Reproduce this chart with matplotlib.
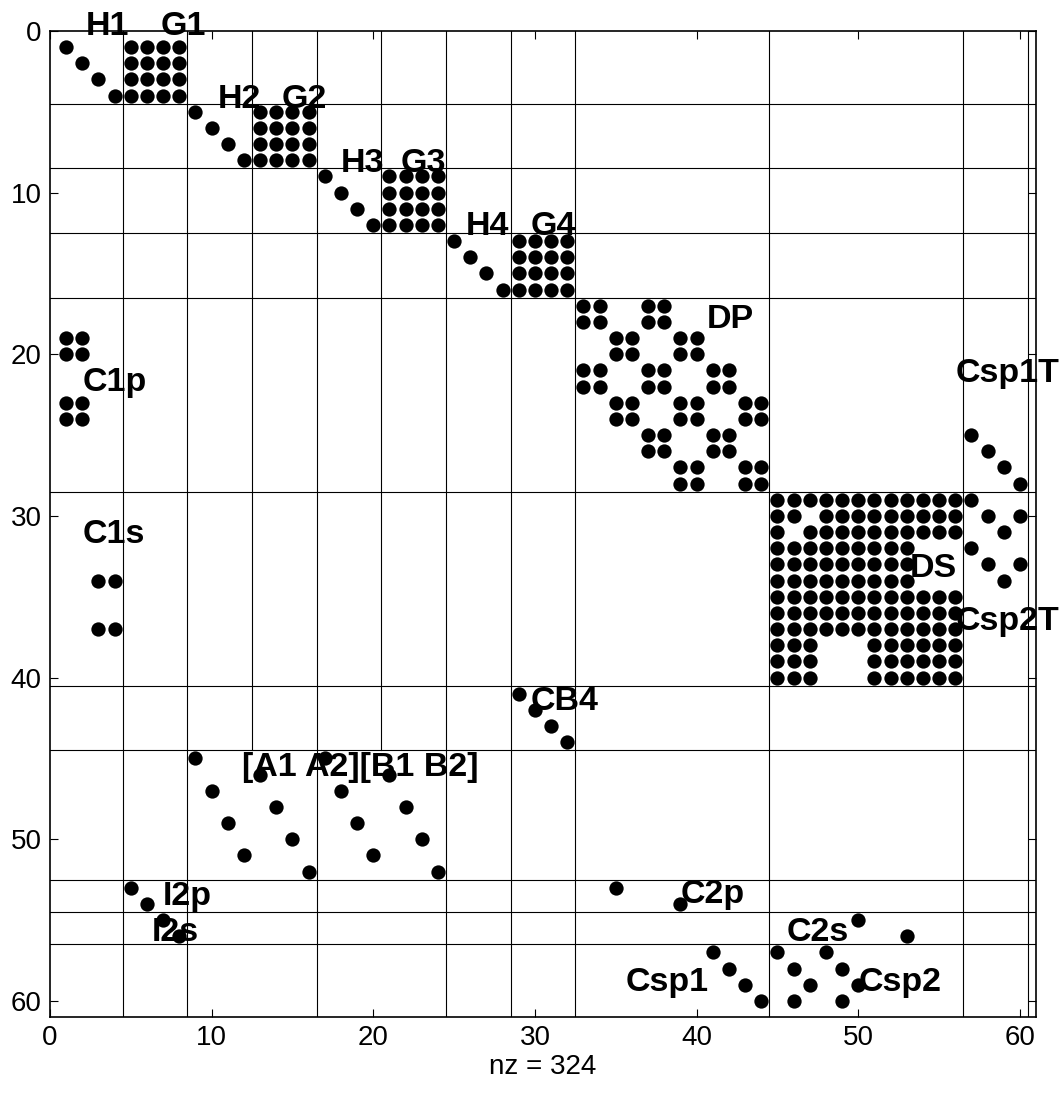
import numpy as np
import matplotlib
matplotlib.use("Agg")
import matplotlib.pyplot as plt

# sparsity pattern of the 60x60 matrix, given block by block
# each block: first row, first column (1-based) and its pattern of nonzeros
diag4 = ["1000", "0100", "0010", "0001"]
full4 = ["1111", "1111", "1111", "1111"]

dp_pattern = ["110011000000", "110011000000",
              "001100110000", "001100110000",
              "110011001100", "110011001100",
              "001100110011", "001100110011",
              "000011001100", "000011001100",
              "000000110011", "000000110011"]

ds_pattern = ["111111111111",
              "110111111111",
              "101111111111",
              "111111111000",
              "111111111000",
              "111111111000",
              "111111111111",
              "111111111111",
              "111111111111",
              "111000111111",
              "111000111111",
              "111000111111"]

c1p_pattern = ["11", "11", "00", "00", "11", "11"]
c1s_pattern = ["11", "00", "00", "11"]
csp2t_pattern = ["1000", "0101", "0010", "1000", "0101", "0010"]
csp2_pattern = ["100100", "010010", "001001", "010010"]
ab_pattern = ["1000000010000000",
              "0000100000001000",
              "0100000001000000",
              "0000010000000100",
              "0010000000100000",
              "0000001000000010",
              "0001000000010000",
              "0000000100000001"]
i2_pattern = ["10", "01"]
c2p_pattern = ["10000", "00001"]
c2s_pattern = ["1000", "0001"]

block_rows = [1, 5, 9, 13, 1, 5, 9, 13, 17, 19, 25, 29, 29, 34, 41, 45, 53, 53, 55, 55, 57, 57]
block_cols = [1, 9, 17, 25, 5, 13, 21, 29, 33, 1, 57, 45, 57, 3, 29, 9, 5, 35, 7, 50, 41, 45]
block_patterns = [diag4, diag4, diag4, diag4, full4, full4, full4, full4,
                  dp_pattern, c1p_pattern, diag4, ds_pattern, csp2t_pattern,
                  c1s_pattern, diag4, ab_pattern, i2_pattern, c2p_pattern,
                  i2_pattern, c2s_pattern, diag4, csp2_pattern]

# block partition lines
vlines_full = [4.5, 8.5, 16.5, 24.5, 28.5, 32.5, 44.5, 56.5, 60.5]
vlines_part = [12.5, 20.5]   # these stop at row 44.5
hlines_full = [4.5, 8.5, 12.5, 16.5, 28.5, 40.5, 44.5, 52.5, 54.5, 56.5]

# block labels: text, x, y (baseline)
label_text = ["H1", "G1", "H2", "G2", "H3", "G3", "H4", "G4", "DP", "C1p", "Csp1T",
              "C1s", "DS", "Csp2T", "CB4", "[A1 A2][B1 B2]", "I2p", "C2p", "I2s",
              "C2s", "Csp1", "Csp2"]
label_x = [2.2, 6.85, 10.4, 14.35, 18.0, 21.7, 25.7, 29.75, 40.6, 2.0, 56.05,
           2.0, 53.2, 56.0, 29.75, 11.9, 7.0, 39.0, 6.3, 45.6, 35.6, 50.05]
label_y = [0.25, 0.25, 4.75, 4.75, 8.75, 8.75, 12.6, 12.6, 18.4, 22.3, 21.7,
           31.7, 33.75, 37.05, 42.0, 46.1, 54.1, 53.95, 56.3, 56.3, 59.4, 59.4]

n = 60


def build_matrix(size, rows, cols, patterns):
    """put every block pattern into one 0/1 matrix"""
    S = np.zeros((size, size), dtype=int)
    for r0, c0, pat in zip(rows, cols, patterns):
        for i, line in enumerate(pat):
            for j, ch in enumerate(line):
                if ch == "1":
                    S[r0 - 1 + i, c0 - 1 + j] = 1
    return S


S = build_matrix(n, block_rows, block_cols, block_patterns)
r, c = np.nonzero(S)
nz = len(r)

plt.rcParams['font.family'] = ['Liberation Sans', 'DejaVu Sans']

fig = plt.figure(figsize=(10.63, 10.93), dpi=100)
ax = fig.add_axes([50 / 1063, 1 - 1017 / 1093, 986 / 1063, 986 / 1093])

# the partition grid
for x in vlines_full:
    ax.axvline(x, color='black', lw=0.8, zorder=1)
for x in vlines_part:
    ax.plot([x, x], [0, 44.5], color='black', lw=0.8, zorder=1)
for y in hlines_full:
    ax.axhline(y, color='black', lw=0.8, zorder=1)

# spy-like plot of the nonzeros
ax.plot(c + 1, r + 1, 'o', color='black', markersize=10.3, markeredgewidth=0, zorder=2)

for txt, x, y in zip(label_text, label_x, label_y):
    ax.text(x, y, txt, fontsize=24.5, fontweight='bold', ha='left', va='baseline',
            zorder=3, clip_on=False)

ax.set_xlim(0, n + 1)
ax.set_ylim(n + 1, 0)
ax.set_xticks(np.arange(0, 61, 10))
ax.set_yticks(np.arange(0, 61, 10))
ax.tick_params(direction='in', length=6, width=0.8, top=True, right=True,
               labelsize=20)
ax.tick_params(axis='y', pad=6)
ax.tick_params(axis='x', pad=6)
for sp in ax.spines.values():
    sp.set_linewidth(1.2)
ax.set_xlabel("nz = %d" % nz, fontsize=20, labelpad=2)

fig.savefig("out.png", dpi=100)
